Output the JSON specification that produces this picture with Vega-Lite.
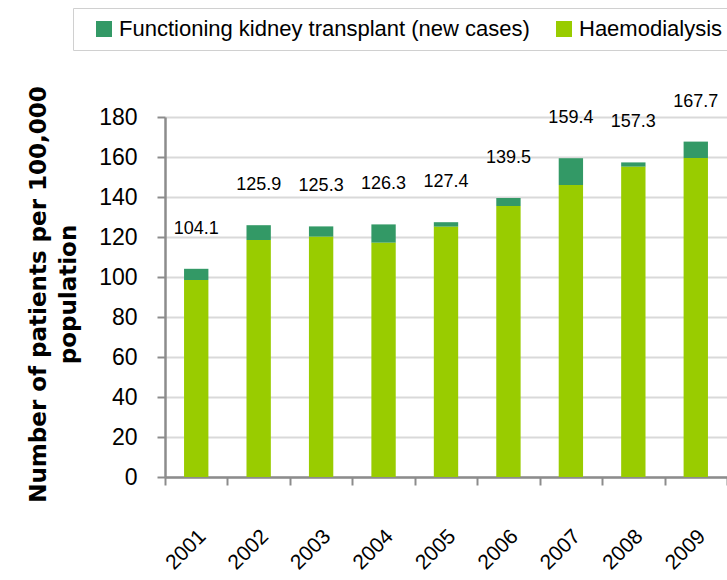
{
  "$schema": "https://vega.github.io/schema/vega-lite/v6.json",
  "width": 562,
  "height": 360,
  "autosize": {"type": "none"},
  "padding": {"left": 165, "top": 117, "right": 0, "bottom": 103},
  "background": "white",
  "datasets": {
    "bars": [
      {"year": "2001", "type": "Haemodialysis", "value": 98.5},
      {"year": "2001", "type": "Functioning kidney transplant (new cases)", "value": 5.6},
      {"year": "2002", "type": "Haemodialysis", "value": 118.5},
      {"year": "2002", "type": "Functioning kidney transplant (new cases)", "value": 7.4},
      {"year": "2003", "type": "Haemodialysis", "value": 120.2},
      {"year": "2003", "type": "Functioning kidney transplant (new cases)", "value": 5.1},
      {"year": "2004", "type": "Haemodialysis", "value": 117.2},
      {"year": "2004", "type": "Functioning kidney transplant (new cases)", "value": 9.1},
      {"year": "2005", "type": "Haemodialysis", "value": 125.2},
      {"year": "2005", "type": "Functioning kidney transplant (new cases)", "value": 2.2},
      {"year": "2006", "type": "Haemodialysis", "value": 135.5},
      {"year": "2006", "type": "Functioning kidney transplant (new cases)", "value": 4.0},
      {"year": "2007", "type": "Haemodialysis", "value": 146.0},
      {"year": "2007", "type": "Functioning kidney transplant (new cases)", "value": 13.4},
      {"year": "2008", "type": "Haemodialysis", "value": 155.2},
      {"year": "2008", "type": "Functioning kidney transplant (new cases)", "value": 2.1},
      {"year": "2009", "type": "Haemodialysis", "value": 159.5},
      {"year": "2009", "type": "Functioning kidney transplant (new cases)", "value": 8.2}
    ],
    "totals": [
      {"year": "2001", "total": 104.1},
      {"year": "2002", "total": 125.9},
      {"year": "2003", "total": 125.3},
      {"year": "2004", "total": 126.3},
      {"year": "2005", "total": 127.4},
      {"year": "2006", "total": 139.5},
      {"year": "2007", "total": 159.4},
      {"year": "2008", "total": 157.3},
      {"year": "2009", "total": 167.7}
    ]
  },
  "config": {
    "view": {"stroke": null},
    "font": "Liberation Sans, Arial, sans-serif",
    "axisX": {
      "title": null,
      "labelAngle": -45,
      "labelAlign": "right",
      "labelBaseline": "middle",
      "labelFontSize": 21,
      "labelColor": "#000000",
      "labelPadding": 48,
      "labelOffset": 6,
      "labelOverlap": false,
      "tickBand": "extent",
      "tickSize": 8,
      "tickColor": "#8c8c8c",
      "tickWidth": 2,
      "domainColor": "#8c8c8c",
      "domainWidth": 2.5
    },
    "axisY": {
      "grid": true,
      "gridColor": "#d9d9d9",
      "gridWidth": 2,
      "labelFontSize": 23,
      "labelColor": "#000000",
      "labelPadding": 20,
      "labelOverlap": false,
      "labelBound": false,
      "labelFlush": false,
      "tickSize": 8,
      "tickColor": "#8c8c8c",
      "tickWidth": 2,
      "domainColor": "#8c8c8c",
      "domainWidth": 2.5,
      "titleFont": "DejaVu Sans",
      "titleFontWeight": "bold",
      "titleFontSize": 23,
      "titleLineHeight": 30,
      "titleColor": "#000000",
      "titleAngle": 270,
      "titleAlign": "center",
      "titleBaseline": "bottom",
      "titleX": -115,
      "titleY": 177
    }
  },
  "layer": [
    {
      "data": {"name": "bars"},
      "mark": {"type": "bar", "width": {"band": 0.39}},
      "encoding": {
        "x": {
          "field": "year",
          "type": "ordinal",
          "scale": {"paddingInner": 0, "paddingOuter": 0},
          "axis": {"title": null}
        },
        "y": {
          "field": "value",
          "type": "quantitative",
          "stack": "zero",
          "scale": {"domain": [0, 180], "nice": false},
          "axis": {
            "values": [0, 20, 40, 60, 80, 100, 120, 140, 160, 180],
            "title": ["Number of patients per 100,000", "population"]
          }
        },
        "color": {
          "field": "type",
          "type": "nominal",
          "scale": {
            "domain": ["Functioning kidney transplant (new cases)", "Haemodialysis"],
            "range": ["#339966", "#99CC00"]
          },
          "legend": {
            "title": null,
            "orient": "none",
            "direction": "horizontal",
            "legendX": -92,
            "legendY": -109,
            "padding": 10,
            "strokeColor": "#d0d0d0",
            "symbolType": "square",
            "symbolSize": 256,
            "symbolStrokeWidth": 0,
            "symbolOffset": 10,
            "labelFontSize": 22,
            "labelColor": "#000000",
            "labelOffset": 4,
            "columnPadding": 13,
            "labelLimit": 600
          }
        },
        "order": {"field": "type", "sort": "descending"}
      }
    },
    {
      "data": {"name": "totals"},
      "mark": {"type": "text", "dy": -35, "baseline": "alphabetic", "fontSize": 18, "color": "#000000"},
      "encoding": {
        "x": {"field": "year", "type": "ordinal", "axis": {"title": null}},
        "y": {
          "field": "total",
          "type": "quantitative",
          "axis": {
            "values": [0, 20, 40, 60, 80, 100, 120, 140, 160, 180],
            "title": ["Number of patients per 100,000", "population"]
          }
        },
        "text": {"field": "total", "type": "quantitative", "format": ".1f"}
      }
    }
  ]
}
